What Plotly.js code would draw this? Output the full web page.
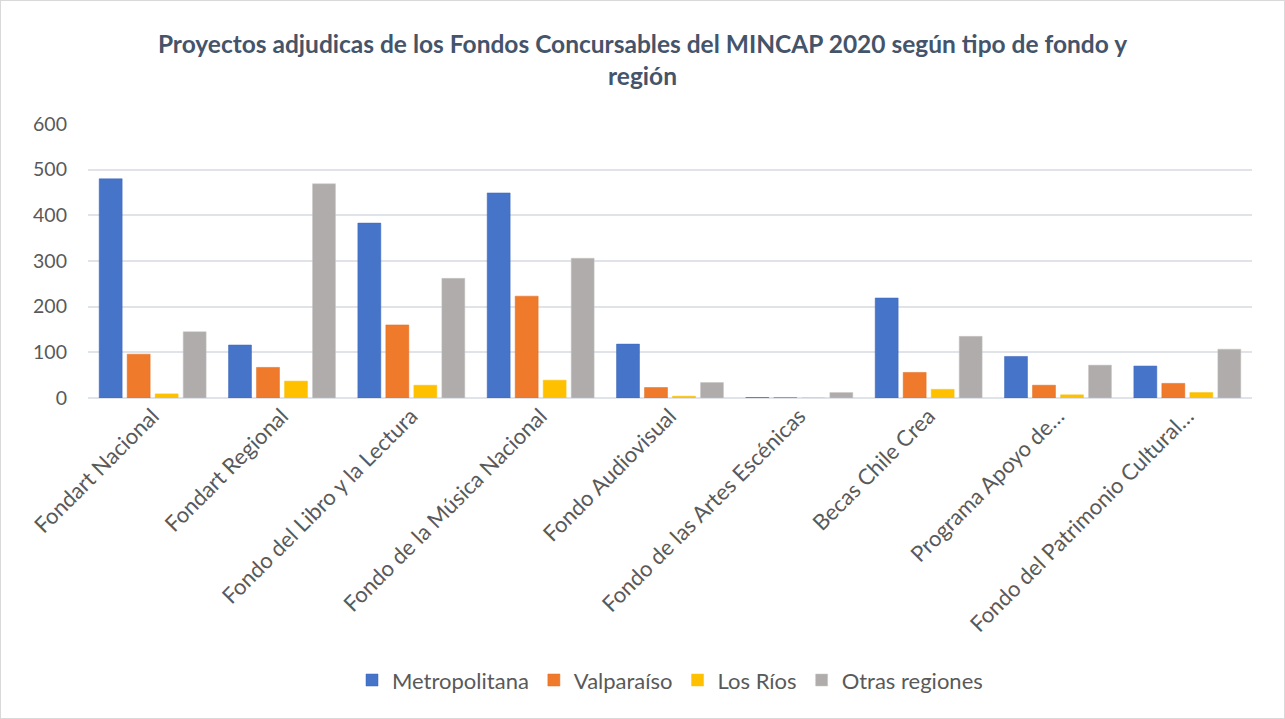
<!DOCTYPE html>
<html>
<head>
<meta charset="utf-8">
<script src="https://cdn.plot.ly/plotly-3.0.1.min.js"></script>
<style>
html,body{margin:0;padding:0;background:#fff;}
#chart{width:1283px;height:717px;border:1px solid #d9d9d9;}
</style>
</head>
<body>
<div id="chart"></div>
<script>
const categories = ["Fondart Nacional","Fondart Regional","Fondo del Libro y la Lectura","Fondo de la Música Nacional","Fondo Audiovisual","Fondo de las Artes Escénicas","Becas Chile Crea","Programa Apoyo de…","Fondo del Patrimonio Cultural…"];
const metropolitana = [480,116,383,449,118,1,219,91,70];
const valparaiso    = [96,67,160,223,23,1,56,28,32];
const losRios       = [9,37,28,39,4,0,19,7,12];
const otrasRegiones = [145,469,262,306,34,12,135,72,107];
const seriesNames = ["Metropolitana","Valparaíso","Los Ríos","Otras regiones"];
const yTicks = [0,100,200,300,400,500,600];

const colors = ["#4674c9","#ef7a2c","#ffc000","#afacab"];
const lines  = ["#3a66b8","#e06f22","#f5c518","#c8c6c5"];
const vals = [metropolitana, valparaiso, losRios, otrasRegiones];
const font = "Lato, 'Open Sans', sans-serif";

const data = vals.map((v,i)=>({
  type:"bar", x:categories, y:v, name:seriesNames[i],
  marker:{color:colors[i], line:{color:lines[i], width:0.5}},
  hoverinfo:"x+y+name"
}));

const layout = {
  width:1283, height:717,
  paper_bgcolor:"#fff", plot_bgcolor:"#fff",
  font:{family:font, color:"#595959", size:18},
  title:{text:"<b>Proyectos adjudicas de los Fondos Concursables del MINCAP 2020 según tipo de fondo y<br>región</b>",
         x:0.5, xref:"container", y:0.927, yref:"container", yanchor:"top",
         font:{family:font, size:24.5, color:"#44546a"}},
  margin:{l:87, r:32, t:123, b:320},
  barmode:"group", bargap:0.134, bargroupgap:0.18,
  xaxis:{type:"category", tickangle:-45, showgrid:false, showline:false, ticks:"",
         tickfont:{size:22, color:"#595959"}},
  yaxis:{range:[0,600], tickvals:yTicks, ticktext:yTicks.map(String),
         showgrid:true, gridcolor:"#e0e3e8", gridwidth:1.5,
         zeroline:true, zerolinecolor:"#e0e3e8", zerolinewidth:1.5,
         showline:false, ticks:"", ticklabelstandoff:20,
         tickfont:{size:19.5, color:"#595959"}},
  legend:{orientation:"h", x:0.5, xanchor:"center", y:-1.03, yanchor:"middle",
          font:{size:22, color:"#595959"}, itemwidth:30, traceorder:"normal"},
  showlegend:true
};

Plotly.newPlot("chart", data, layout, {displayModeBar:false, responsive:false});
</script>
</body>
</html>
